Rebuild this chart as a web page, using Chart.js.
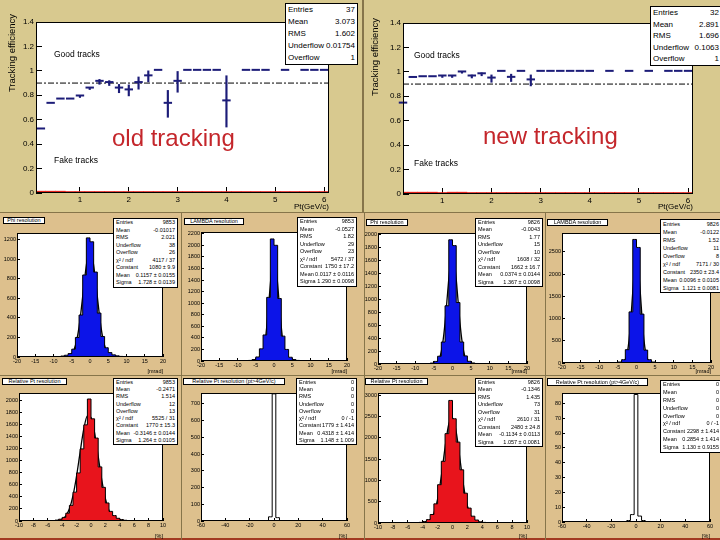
<!DOCTYPE html>
<html>
<head>
<meta charset="utf-8">
<title>Tracking efficiency and resolutions: old vs new tracking</title>
<script src="https://cdn.jsdelivr.net/npm/chart.js@4.4.0/dist/chart.umd.min.js"></script>
<style>
  html, body { margin: 0; padding: 0; }
  body { width: 720px; height: 540px; position: relative; overflow: hidden; background: #86754a; font-family: "Liberation Sans", Arial, sans-serif; }
  .pad { position: absolute; box-sizing: border-box; }
  .pad.top { background: #d8c98f; }
  .pad.small { background: #ddc08d; }
  .pad.low { border-bottom: 2px solid #a23a22; }
  canvas { position: absolute; }
  .box { position: absolute; background: #fff; border: 1px solid #000; box-sizing: border-box; color: #000; padding: 0 2px; overflow: hidden; }
  .box div { display: flex; justify-content: space-between; white-space: nowrap; }
  .label { position: absolute; white-space: nowrap; color: #000; line-height: 1; }
  .big { position: absolute; white-space: nowrap; font-size: 24px; line-height: 1; color: #c4262b; }
  .vtitle { position: absolute; white-space: nowrap; font-size: 9.5px; line-height: 1; transform: translate(-50%, -50%) rotate(-90deg); }
</style>
</head>
<body>
<script>
// ---- efficiency vs pt (bins 0.2 GeV/c wide, centres) ----
const ptBins  = [0.2, 0.4, 0.6, 0.8, 1.0, 1.2, 1.4, 1.6, 1.8, 2.0, 2.2, 2.4, 2.6, 2.8, 3.0,
                 3.2, 3.4, 3.6, 3.8, 4.0, 4.2, 4.4, 4.6, 4.8, 5.0, 5.2, 5.4, 5.6, 5.8, 6.0];
const oldEff  = [0.52, 0.73, 0.765, 0.765, 0.79, 0.855, 0.91, 0.90, 0.855, 0.84, 0.90, 0.955, 1, 0.73, 0.91,
                 1, 1, 1, 1, 0.75, null, 1, 1, 1, null, 1, null, 1, 1, 1];
const oldErr  = [0, 0, 0, 0, 0.008, 0.008, 0.02, 0.02, 0.034, 0.045, 0.05, 0.045, 0, 0.11, 0.085,
                 0, 0, 0, 0, 0.21, 0, 0, 0, 0, 0, 0, 0, 0, 0, 0];
const oldFake = [0.015, 0.015, 0.015, 0, 0, 0, 0, 0, 0, 0, 0, 0, 0, 0, 0,
                 0, 0, 0, 0, 0, 0, 0, 0, 0, 0, 0, 0, 0, 0, 0];
const newEff  = [0.74, 0.95, 0.956, 0.956, 0.962, 0.962, 0.995, 0.962, 0.98, 0.945, 1, 0.951, 1, 0.93, 1,
                 1, 1, 1, 1, 1, null, 1, null, 1, null, 1, null, 1, 1, 1];
const newErr  = [0, 0, 0, 0, 0.008, 0.008, 0.006, 0.012, 0.012, 0.03, 0, 0.03, 0, 0.045, 0,
                 0, 0, 0, 0, 0, 0, 0, 0, 0, 0, 0, 0, 0, 0, 0];
const newFake = [0.015, 0.015, 0.015, 0.015, 0, 0.015, 0.015, 0, 0, 0, 0, 0, 0, 0, 0,
                 0, 0, 0, 0, 0, 0, 0, 0, 0, 0, 0, 0, 0, 0, 0];
const refLevel = 0.9;
const effXTicks = [1, 2, 3, 4, 5, 6];
const effYTicks = [0, 0.2, 0.4, 0.6, 0.8, 1, 1.2, 1.4];

// ---- resolution histograms ----
const mradBins = [-9.5, -8.5, -7.5, -6.5, -5.5, -4.5, -3.5, -2.5, -1.5, -0.5,
                  0.5, 1.5, 2.5, 3.5, 4.5, 5.5, 6.5, 7.5, 8.5, 9.5];
const oldPhi    = [3, 5, 10, 18, 35, 80, 200, 430, 840, 1220, 1180, 870, 450, 210, 95, 45, 22, 12, 6, 3];
const oldLambda = [2, 4, 6, 10, 25, 70, 210, 450, 1100, 2110, 2000, 1080, 430, 200, 65, 25, 10, 6, 4, 2];
const newPhi    = [1, 2, 4, 7, 14, 40, 120, 340, 900, 1920, 1830, 950, 340, 125, 42, 16, 8, 4, 2, 1];
const newLambda = [1, 2, 3, 5, 9, 22, 75, 300, 1150, 2780, 2600, 1100, 290, 75, 22, 10, 5, 3, 2, 1];

const pctBins = [-5.75, -5.25, -4.75, -4.25, -3.75, -3.25, -2.75, -2.25, -1.75, -1.25, -0.75, -0.25,
                 0.25, 0.75, 1.25, 1.75, 2.25, 2.75, 3.25, 3.75, 4.25, 4.75, 5.25, 5.75];
const oldPt = [5, 8, 15, 30, 60, 130, 260, 480, 800, 1200, 1600, 2030, 1700, 1380, 900, 560, 300, 160, 90, 45, 25, 12, 6, 3];
const newPt = [3, 5, 8, 15, 35, 80, 200, 450, 900, 1450, 2100, 2880, 2450, 1900, 1250, 700, 350, 160, 70, 30, 14, 7, 4, 2];

const wideBins = [-9, -6, -3, 0, 3, 6, 9];
const oldPtHigh = [0, 2, 25, 760, 20, 2, 0];
const newPtHigh = [0, 1, 5, 86, 4, 1, 0];

// gaussian fit curves, read at these x
const fitX = [-6, -5.5, -5, -4.5, -4, -3.5, -3, -2.5, -2, -1.5, -1, -0.5, 0, 0.5, 1, 1.5, 2, 2.5, 3, 3.5, 4, 4.5, 5, 5.5, 6];
const oldPhiFit    = [7, 16, 34, 65, 118, 198, 310, 454, 621, 790, 940, 1043, 1080, 1043, 940, 790, 621, 454, 310, 198, 118, 65, 34, 16, 7];
const oldLambdaFit = [0, 0, 2, 7, 22, 61, 148, 315, 584, 944, 1330, 1634, 1750, 1634, 1330, 944, 584, 315, 148, 61, 22, 7, 2, 0, 0];
const oldPtFit     = [0, 1, 3, 10, 31, 86, 204, 424, 752, 1156, 1531, 1749, 1723, 1465, 1074, 679, 370, 174, 71, 25, 7, 2, 0, 0, 0];
const newPhiFit    = [0, 1, 4, 13, 37, 90, 195, 376, 641, 972, 1308, 1564, 1660, 1564, 1308, 972, 641, 376, 195, 90, 37, 13, 4, 1, 0];
const newLambdaFit = [0, 0, 0, 1, 6, 23, 78, 221, 518, 1003, 1610, 2138, 2350, 2138, 1610, 1003, 518, 221, 78, 23, 6, 1, 0, 0, 0];
const newPtFit     = [0, 0, 0, 0, 5, 21, 77, 230, 559, 1103, 1774, 2321, 2470, 2137, 1504, 861, 401, 152, 47, 12, 2, 0, 0, 0, 0];

// axis ticks of the resolution plots
const mradTicks = [-20, -15, -10, -5, 0, 5, 10, 15, 20];
const pctTicks = [-10, -8, -6, -4, -2, 0, 2, 4, 6, 8, 10];
const wideTicks = [-60, -40, -20, 0, 20, 40, 60];
const oldPhiY = [0, 200, 400, 600, 800, 1000, 1200];
const oldLambdaY = [0, 200, 400, 600, 800, 1000, 1200, 1400, 1600, 1800, 2000, 2200];
const oldPtY = [0, 200, 400, 600, 800, 1000, 1200, 1400, 1600, 1800, 2000];
const oldPtHighY = [0, 100, 200, 300, 400, 500, 600, 700];
const newPhiY = [0, 200, 400, 600, 800, 1000, 1200, 1400, 1600, 1800, 2000];
const newLambdaY = [0, 500, 1000, 1500, 2000, 2500];
const newPtY = [0, 500, 1000, 1500, 2000, 2500, 3000];
const newPtHighY = [0, 10, 20, 30, 40, 50, 60, 70, 80];

// stats box texts
const statsOldEff = [['Entries', '37'], ['Mean', '3.073'], ['RMS', '1.602'], ['Underflow', '0.01754'], ['Overflow', '1']];
const statsNewEff = [['Entries', '32'], ['Mean', '2.891'], ['RMS', '1.696'], ['Underflow', '0.1063'], ['Overflow', '1']];
const fitRows = (e, m, r, u, o, chi, c, mu, s) => [['Entries', e], ['Mean', m], ['RMS', r], ['Underflow', u], ['Overflow', o],
  ['χ² / ndf', chi], ['Constant', c], ['Mean', mu], ['Sigma', s]];
const statsOldPhi    = fitRows('9853', '-0.01017', '2.021', '38', '26', '4117 / 37', '1080 ± 9.9', '0.1157 ± 0.0155', '1.728 ± 0.0139');
const statsOldLambda = fitRows('9853', '-0.0527', '1.82', '29', '23', '5472 / 37', '1750 ± 17.2', '0.0117 ± 0.0116', '1.290 ± 0.0098');
const statsOldPt     = fitRows('9853', '-0.2471', '1.514', '12', '13', '5525 / 31', '1770 ± 15.3', '-0.3146 ± 0.0144', '1.264 ± 0.0105');
const statsOldPtHigh = fitRows('0', '0', '0', '0', '0', '0 / -1', '1779 ± 1.414', '0.4318 ± 1.414', '1.148 ± 1.009');
const statsNewPhi    = fitRows('9826', '-0.0043', '1.77', '15', '10', '1608 / 32', '1662 ± 16.7', '0.0374 ± 0.0144', '1.367 ± 0.0098');
const statsNewLambda = fitRows('9826', '-0.0122', '1.52', '11', '8', '7171 / 30', '2350 ± 23.4', '0.0096 ± 0.0105', '1.121 ± 0.0081');
const statsNewPt     = fitRows('9826', '-0.1346', '1.435', '73', '31', '2610 / 31', '2480 ± 24.8', '-0.1134 ± 0.0113', '1.057 ± 0.0081');
const statsNewPtHigh = fitRows('0', '0', '0', '0', '0', '0 / -1', '2298 ± 1.414', '0.2854 ± 1.414', '1.130 ± 0.9155');

const NAVY = '#1c1c78';
const FAKE = '#e3241c';
const BLUE = '#0c14e8';
const RED  = '#e8141c';

Chart.defaults.font.family = '"Liberation Sans", Arial, Helvetica, sans-serif';
Chart.defaults.color = '#000';

// white frame with black border, like a ROOT pad frame
const frameBox = {
  id: 'frameBox',
  beforeDraw(chart) {
    const { ctx, chartArea: a } = chart;
    ctx.save();
    ctx.fillStyle = '#ffffff';
    ctx.fillRect(a.left, a.top, a.right - a.left, a.bottom - a.top);
    ctx.restore();
  },
  afterDatasetsDraw(chart) {
    const { ctx, chartArea: a } = chart;
    ctx.save();
    ctx.strokeStyle = '#000';
    ctx.lineWidth = 1;
    ctx.strokeRect(Math.round(a.left) + 0.5, Math.round(a.top) + 0.5,
                   Math.round(a.right - a.left) - 1, Math.round(a.bottom - a.top) - 1);
    ctx.restore();
  }
};

function addDiv(cls, x, y, w, h) {
  const d = document.createElement('div');
  d.className = cls;
  Object.assign(d.style, { left: x + 'px', top: y + 'px' });
  if (w != null) d.style.width = w + 'px';
  if (h != null) d.style.height = h + 'px';
  document.body.appendChild(d);
  return d;
}

function addCanvas(p) {
  const c = document.createElement('canvas');
  c.width = p[2];
  c.height = p[3];
  Object.assign(c.style, { left: p[0] + 'px', top: p[1] + 'px', width: p[2] + 'px', height: p[3] + 'px' });
  document.body.appendChild(c);
  return c;
}

function addText(cls, x, y, text, size) {
  const d = addDiv(cls, x, y);
  d.textContent = text;
  if (size) d.style.fontSize = size + 'px';
  return d;
}

function addBox(x, y, w, h, rows, size) {
  const d = addDiv('box', x, y, w, h);
  d.style.fontSize = size + 'px';
  const rh = (h - 2) / rows.length;
  rows.forEach(([k, v]) => {
    const r = document.createElement('div');
    r.style.height = rh + 'px';
    r.style.lineHeight = rh + 'px';
    r.innerHTML = '<span>' + k + '</span><span>' + v + '</span>';
    d.appendChild(r);
  });
}

function scalesFor(panel, frame, xs, ys, font, tick, gap) {
  const axis = o => ({
    type: 'linear', min: o.min, max: o.max, offset: false,
    afterBuildTicks: s => { s.ticks = o.ticks.map(value => ({ value })); },
    grid: { drawOnChartArea: false, drawTicks: true, tickLength: -tick, color: '#000', offset: false },
    border: { display: false },
    ticks: { autoSkip: false, maxRotation: 0, padding: tick + gap, color: '#000', font: { size: font },
             callback: v => String(+v.toFixed(2)) },
    title: { display: !!o.title, text: o.title, align: 'end', color: '#000', font: { size: font }, padding: 0 }
  });
  const x = axis(xs), y = axis(ys);
  x.afterFit = s => { s.height = panel[1] + panel[3] - frame[3]; };
  y.afterFit = s => { s.width = frame[0] - panel[0]; };
  return { x, y };
}

function padFor(panel, frame) {
  return { left: 0, top: frame[1] - panel[1], right: panel[0] + panel[2] - frame[2], bottom: 0 };
}

function effChart(panel, frame, xMin, eff, err, fake) {
  const pts = [], errs = [];
  ptBins.forEach((x, i) => {
    if (eff[i] == null) return;
    pts.push({ x, y: [eff[i], eff[i]] });
    if (err[i] > 0) errs.push({ x, y: [eff[i] - err[i], eff[i] + err[i]] });
  });
  new Chart(addCanvas(panel), {
    type: 'bar',
    data: {
      datasets: [
        { data: pts, backgroundColor: NAVY, minBarLength: 2, barPercentage: 0.86, categoryPercentage: 1, grouped: false, clip: false },
        { data: errs, backgroundColor: NAVY, barThickness: 1.5, grouped: false },
        { data: ptBins.map((x, i) => ({ x, y: fake[i] })), backgroundColor: FAKE, minBarLength: 1.5,
          barPercentage: 1, categoryPercentage: 1, grouped: false },
        { type: 'line', data: [{ x: xMin, y: refLevel }, { x: 6.1, y: refLevel }], borderColor: '#000',
          borderWidth: 1, borderDash: [6, 2, 2, 2], pointRadius: 0 }
      ]
    },
    options: {
      responsive: false, animation: false, devicePixelRatio: 1,
      layout: { padding: padFor(panel, frame) },
      scales: scalesFor(panel, frame, { min: xMin, max: 6.1, ticks: effXTicks, title: 'Pt(GeV/c)' },
                        { min: 0, max: 1.4, ticks: effYTicks }, 8, 6, 2),
      plugins: { legend: { display: false }, tooltip: { enabled: false } }
    },
    plugins: [frameBox]
  });
}

function histChart(panel, frame, bins, counts, fill, fit, xs, ys) {
  const datasets = [{
    data: bins.map((x, i) => ({ x, y: counts[i] })), stepped: 'middle',
    fill: fill ? 'origin' : false, backgroundColor: fill || 'rgba(0,0,0,0)',
    borderColor: '#000', borderWidth: 1, pointRadius: 0
  }];
  if (fit) {
    datasets.push({ data: fitX.map((x, i) => ({ x, y: fit[i] })), borderColor: '#000', borderWidth: 1.3,
                    cubicInterpolationMode: 'monotone', pointRadius: 0, fill: false });
  }
  new Chart(addCanvas(panel), {
    type: 'line',
    data: { datasets },
    options: {
      responsive: false, animation: false, devicePixelRatio: 1,
      layout: { padding: padFor(panel, frame) },
      scales: scalesFor(panel, frame, xs, ys, 5.5, 3, 1),
      plugins: { legend: { display: false }, tooltip: { enabled: false } }
    },
    plugins: [frameBox]
  });
}

// ---- pads ----
const topL = [0, 0, 362, 212], topR = [364, 0, 356, 212];
addDiv('pad top', topL[0], topL[1], topL[2], topL[3]);
addDiv('pad top', topR[0], topR[1], topR[2], topR[3]);

const P = {
  oldPhi:    [0, 213, 181, 162],   oldLambda: [182, 213, 182, 162],
  newPhi:    [365, 213, 180, 162], newLambda: [546, 213, 174, 162],
  oldPt:     [0, 376, 181, 164],   oldPtHigh: [182, 376, 182, 164],
  newPt:     [365, 376, 180, 164], newPtHigh: [546, 376, 174, 164]
};
Object.values(P).forEach(p => addDiv(p[1] > 300 ? 'pad small low' : 'pad small', p[0], p[1], p[2], p[3]));

// ---- efficiency plots ----
effChart(topL, [36, 22, 329, 193], 0.1, oldEff, oldErr, oldFake);
effChart(topR, [403, 23, 693, 194], 0.2, newEff, newErr, newFake);

addBox(285, 3, 73, 62, statsOldEff, 8);
addBox(650, 6, 72, 60, statsNewEff, 8);
addText('vtitle', 12, 53, 'Tracking efficiency');
addText('vtitle', 375, 57, 'Tracking efficiency');
addText('label', 54, 49.5, 'Good tracks', 8.5);
addText('label', 54, 156, 'Fake tracks', 8.5);
addText('label', 414, 51, 'Good tracks', 8.5);
addText('label', 414, 158.5, 'Fake tracks', 8.5);
addText('big', 112, 125.5, 'old tracking');
addText('big', 483, 123.5, 'new tracking');

// ---- resolution plots ----
const mradX = { min: -20, max: 20, ticks: mradTicks, title: '[mrad]' };
const pctX = { min: -10, max: 10, ticks: pctTicks, title: '[%]' };
const wideX = { min: -60, max: 60, ticks: wideTicks, title: '[%]' };

histChart(P.oldPhi, [17, 233, 163, 357], mradBins, oldPhi, BLUE, oldPhiFit, mradX, { min: 0, max: 1270, ticks: oldPhiY });
histChart(P.oldLambda, [201, 232, 347, 361], mradBins, oldLambda, BLUE, oldLambdaFit, mradX, { min: 0, max: 2230, ticks: oldLambdaY });
histChart(P.oldPt, [19, 393, 163, 521], pctBins, oldPt, RED, oldPtFit, pctX, { min: 0, max: 2130, ticks: oldPtY });
histChart(P.oldPtHigh, [201, 393, 347, 521], wideBins, oldPtHigh, null, null, wideX, { min: 0, max: 765, ticks: oldPtHighY });
histChart(P.newPhi, [378, 233, 527, 364], mradBins, newPhi, BLUE, newPhiFit, mradX, { min: 0, max: 2025, ticks: newPhiY });
histChart(P.newLambda, [562, 233, 711, 363], mradBins, newLambda, BLUE, newLambdaFit, mradX, { min: 0, max: 2925, ticks: newLambdaY });
histChart(P.newPt, [378, 393, 527, 523], pctBins, newPt, RED, newPtFit, pctX, { min: 0, max: 3055, ticks: newPtY });
histChart(P.newPtHigh, [562, 393, 710, 522], wideBins, newPtHigh, null, null, wideX, { min: 0, max: 87, ticks: newPtHighY });

// title boxes
[[3, 217, 42, 7, 'Phi resolution'], [184, 218, 60, 7, 'LAMBDA resolution'],
 [2, 378, 65, 7, 'Relative Pt resolution'], [183, 378, 102, 7, 'Relative Pt resolution (pt>4GeV/c)'],
 [366, 219, 42, 7, 'Phi resolution'], [547, 219, 61, 7, 'LAMBDA resolution'],
 [365, 378, 63, 7, 'Relative Pt resolution'], [547, 378, 101, 8, 'Relative Pt resolution (pt>4GeV/c)']]
  .forEach(([x, y, w, h, t]) => {
    const d = addDiv('box', x, y, w, h);
    Object.assign(d.style, { fontSize: '5.5px', lineHeight: (h - 2) + 'px', textAlign: 'center', whiteSpace: 'nowrap' });
    d.textContent = t;
  });

// stats boxes
addBox(113, 218, 65, 70, statsOldPhi, 5.5);
addBox(297, 217, 60, 70, statsOldLambda, 5.5);
addBox(113, 378, 65, 67, statsOldPt, 5.5);
addBox(296, 378, 61, 67, statsOldPtHigh, 5.5);
addBox(475, 218, 68, 69, statsNewPhi, 5.5);
addBox(660, 219, 62, 74, statsNewLambda, 5.5);
addBox(475, 378, 68, 69, statsNewPt, 5.5);
addBox(660, 380, 62, 73, statsNewPtHigh, 5.5);
</script>
</body>
</html>
